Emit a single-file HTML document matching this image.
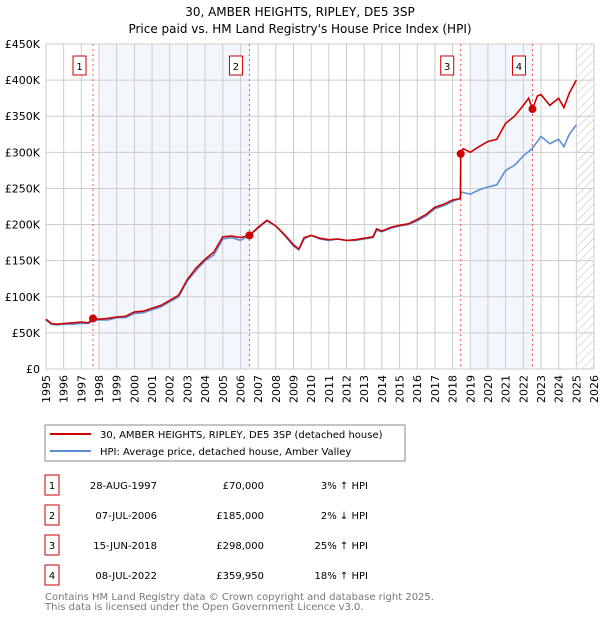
<!DOCTYPE html>
<html><head><meta charset="utf-8"><style>
body{margin:0;background:#fff;font-family:"DejaVu Sans","Liberation Sans",sans-serif;}
svg text{font-family:"DejaVu Sans","Liberation Sans",sans-serif;}
</style></head><body>
<svg id="c" width="600" height="620" xmlns="http://www.w3.org/2000/svg">
<text x="300" y="16" text-anchor="middle" font-size="12">30, AMBER HEIGHTS, RIPLEY, DE5 3SP</text>
<text x="300" y="33" text-anchor="middle" font-size="12">Price paid vs. HM Land Registry's House Price Index (HPI)</text>
<g id="plot"></g>
<rect x="45" y="425" width="360" height="36" fill="#fff" stroke="#888"/>
<line x1="50" y1="434" x2="91" y2="434" stroke="#cc0000" stroke-width="2"/>
<text x="100" y="438" font-size="10">30, AMBER HEIGHTS, RIPLEY, DE5 3SP (detached house)</text>
<line x1="50" y1="451" x2="91" y2="451" stroke="#5b8fd6" stroke-width="2"/>
<text x="100" y="455" font-size="10">HPI: Average price, detached house, Amber Valley</text>
<g id="tbl" font-size="10"></g>
<text x="45" y="600" font-size="10" fill="#777">Contains HM Land Registry data © Crown copyright and database right 2025.</text>
<text x="45" y="610" font-size="10" fill="#777">This data is licensed under the Open Government Licence v3.0.</text>
</svg>
<script>
const hpiYears=[1995,1995.3,1995.6,1996,1996.5,1997,1997.4,1997.66,1998,1998.5,1999,1999.5,2000,2000.5,2001,2001.5,2002,2002.5,2003,2003.5,2004,2004.5,2005,2005.5,2006,2006.5,2007,2007.5,2008,2008.5,2009,2009.3,2009.6,2010,2010.5,2011,2011.5,2012,2012.5,2013,2013.5,2013.7,2014,2014.5,2015,2015.5,2016,2016.5,2017,2017.5,2018,2018.4,2018.5,2019,2019.5,2020,2020.5,2021,2021.5,2022,2022.5,2023,2023.5,2024,2024.3,2024.6,2025];
const hpiValues=[68,62,61,62,62,63,63,67,68,68,71,71,77,78,82,86,93,100,122,137,150,158,180,182,178,185,195,205,198,185,170,165,180,185,180,178,180,178,178,180,182,192,190,195,198,200,205,212,222,226,232,236,245,242,248,252,255,275,282,295,305,322,312,318,308,325,338];
const ppYears=[1995,1995.3,1995.6,1996,1996.5,1997,1997.4,1997.66,1998,1998.5,1999,1999.5,2000,2000.5,2001,2001.5,2002,2002.5,2003,2003.5,2004,2004.5,2005,2005.5,2006,2006.5,2007,2007.5,2008,2008.5,2009,2009.3,2009.6,2010,2010.5,2011,2011.5,2012,2012.5,2013,2013.5,2013.7,2014,2014.5,2015,2015.5,2016,2016.5,2017,2017.5,2018,2018.44,2018.46,2018.6,2019,2019.5,2020,2020.5,2021,2021.5,2022,2022.3,2022.52,2022.8,2023,2023.5,2024,2024.3,2024.6,2025];
const ppValues=[69,63,62,63,64,65,64,70,69,70,72,73,79,80,84,88,95,102,124,140,152,162,183,184,182,185,196,206,198,186,172,166,182,185,181,179,180,178,179,181,183,194,191,196,199,201,207,214,224,228,234,236,298,305,300,308,315,318,340,350,365,375,360,378,380,365,375,362,382,400];
const yTicks=[0,50,100,150,200,250,300,350,400,450];
const xTicks=[1995,1996,1997,1998,1999,2000,2001,2002,2003,2004,2005,2006,2007,2008,2009,2010,2011,2012,2013,2014,2015,2016,2017,2018,2019,2020,2021,2022,2023,2024,2025,2026];
const saleYears=[1997.66,2006.51,2018.46,2022.52];
const saleValues=[70,185,298,359.95];
const saleLabels=["1","2","3","4"];
const saleDates=["28-AUG-1997","07-JUL-2006","15-JUN-2018","08-JUL-2022"];
const salePrices=["£70,000","£185,000","£298,000","£359,950"];
const saleHpi=["3% ↑ HPI","2% ↓ HPI","25% ↑ HPI","18% ↑ HPI"];
const bands=[[1998,2006.51],[2019,2022.52]];

const L=46,R=594,T=44,B=369;
const xs=y=>L+(y-1995)/(2026-1995)*(R-L);
const ys=v=>B-v/450*(B-T);
const NS="http://www.w3.org/2000/svg";
const g=document.getElementById('plot');
function mk(t,a,p){const e=document.createElementNS(NS,t);for(const k in a)e.setAttribute(k,a[k]);(p||g).appendChild(e);return e;}
bands.forEach((b,i)=>{const e=mk('rect',{x:xs(b[0]),y:T,width:xs(b[1])-xs(b[0]),height:B-T,fill:'#eef3fc',opacity:0.7});

});
const defs=mk('defs',{});
const pat=mk('pattern',{id:'h',width:6,height:6,patternUnits:'userSpaceOnUse',patternTransform:'rotate(45)'},defs);
mk('line',{x1:0,y1:0,x2:0,y2:6,stroke:'#bbb','stroke-width':1},pat);
const hat=mk('rect',{x:xs(2025.05),y:T,width:R-xs(2025.05),height:B-T,fill:'url(#h)'});


xTicks.forEach(t=>{const e=mk('line',{x1:xs(t),y1:T,x2:xs(t),y2:B,stroke:'#ccc'});


const tx=mk('text',{x:0,y:0,'font-size':11,'text-anchor':'end',transform:`translate(${xs(t)+4},${B+6}) rotate(-90)`});tx.textContent=t;

});
yTicks.forEach(t=>{const e=mk('line',{x1:L,y1:ys(t),x2:R,y2:ys(t),stroke:'#ccc'});


const tx=mk('text',{x:L-6,y:ys(t)+4,'font-size':11,'text-anchor':'end'});tx.textContent=t===0?'£0':'£'+t+'K';

});
const ax=mk('rect',{x:L,y:T,width:R-L,height:B-T,fill:'none',stroke:'#ccc'});


saleYears.forEach((s,i)=>{const e=mk('line',{x1:xs(s),y1:T,x2:xs(s),y2:B,stroke:'#e55','stroke-dasharray':'2,3'});


const bx=mk('rect',{x:xs(s)-20,y:T+12,width:13,height:19,fill:'#fff',stroke:'#cc0000'});


const tx=mk('text',{x:xs(s)-13.5,y:T+26,'font-size':10,'text-anchor':'middle'});tx.textContent=saleLabels[i];

});
function line(X,V,c,n){const p=mk('path',{d:X.map((x,i)=>(i?'L':'M')+xs(x).toFixed(1)+','+ys(V[i]).toFixed(1)).join(''),fill:'none',stroke:c,'stroke-width':1.6});

}
line(hpiYears,hpiValues,'#5b8fd6','hpi-line');
line(ppYears,ppValues,'#cc0000','price-paid-line');
saleYears.forEach((s,i)=>{const c=mk('circle',{cx:xs(s),cy:ys(saleValues[i]),r:4,fill:'#cc0000'});

});
const tb=document.getElementById('tbl');
saleLabels.forEach((l,i)=>{const y=483+i*30;
const bx=mk('rect',{x:45,y:y-8,width:14,height:20,fill:'#fff',stroke:'#cc0000'},tb);


const cells=[[l,52,'middle','table-sale-number'],[saleDates[i],157,'end','table-sale-date'],[salePrices[i],264,'end','table-sale-price'],[saleHpi[i],368,'end','table-sale-hpi']];
cells.forEach(c=>{const t=mk('text',{x:c[1],y:y+6,'text-anchor':c[2]},tb);t.textContent=c[0];

});});
</script>
</body></html>
